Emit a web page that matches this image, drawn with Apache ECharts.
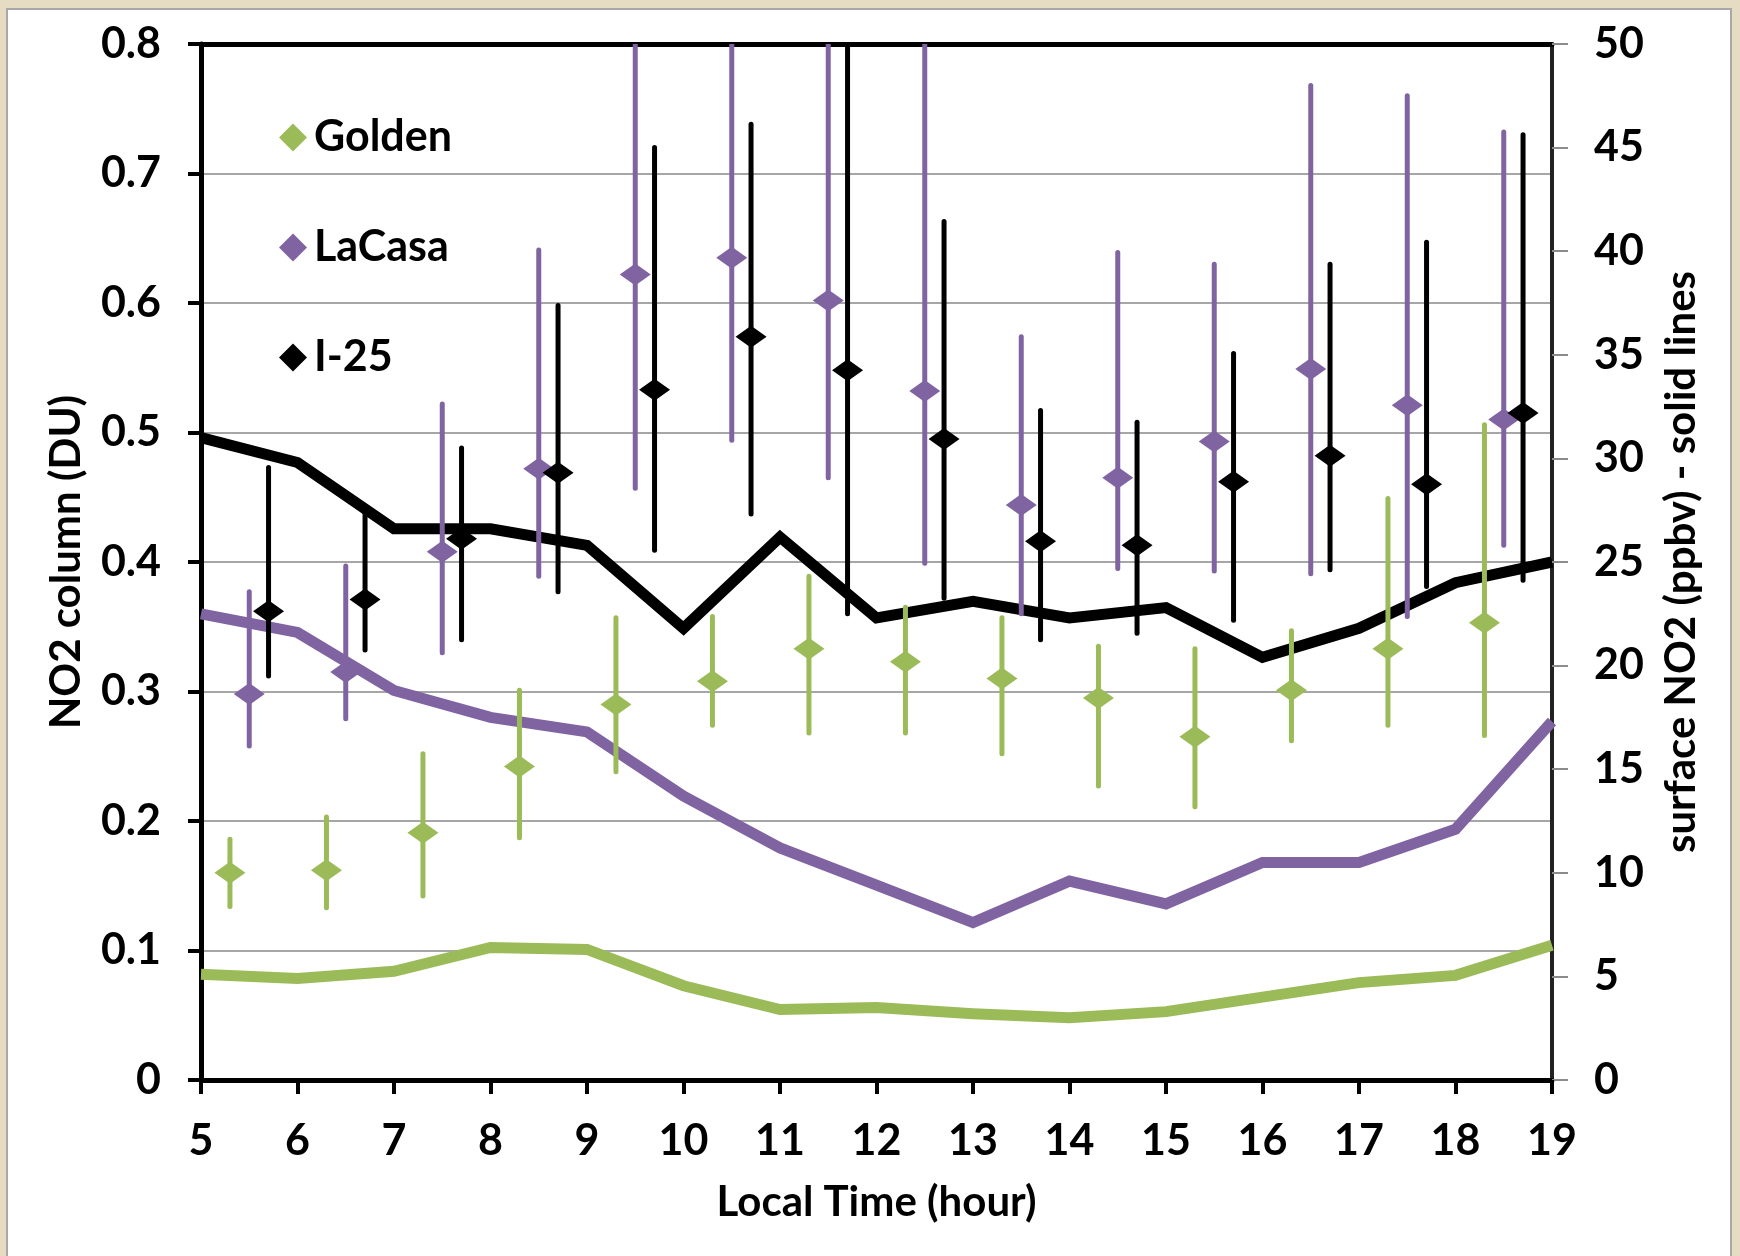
<!DOCTYPE html>
<html>
<head>
<meta charset="utf-8">
<script src="https://cdn.jsdelivr.net/npm/echarts@6/dist/echarts.min.js"></script>
<style>
  html, body { margin: 0; padding: 0; background: #e6dcc4; }
  #chart { width: 1740px; height: 1256px; }
</style>
</head>
<body>
<div id="chart"></div>
<script>
// surface NO2 (ppbv), solid lines on the right axis
var hours = [5, 6, 7, 8, 9, 10, 11, 12, 13, 14, 15, 16, 17, 18, 19];
var i25Surface    = [31.0, 29.8, 26.6, 26.6, 25.8, 21.8, 26.2, 22.3, 23.1, 22.3, 22.8, 20.4, 21.8, 24.0, 25.0];
var lacasaSurface = [22.5, 21.6, 18.8, 17.5, 16.8, 13.7, 11.2, 9.4, 7.6, 9.6, 8.5, 10.5, 10.5, 12.1, 17.3];
var goldenSurface = [5.1, 4.9, 5.25, 6.4, 6.3, 4.55, 3.4, 3.5, 3.2, 3.0, 3.3, 4.0, 4.7, 5.05, 6.5];

// NO2 column (DU), diamonds with error bars on the left axis
var goldenTime = [5.3, 6.3, 7.3, 8.3, 9.3, 10.3, 11.3, 12.3, 13.3, 14.3, 15.3, 16.3, 17.3, 18.3];
var goldenCol  = [0.160, 0.162, 0.191, 0.242, 0.290, 0.308, 0.333, 0.323, 0.310, 0.295, 0.265, 0.301, 0.333, 0.353];
var goldenHi   = [0.186, 0.203, 0.252, 0.301, 0.357, 0.358, 0.389, 0.365, 0.357, 0.335, 0.333, 0.347, 0.449, 0.506];
var goldenLo   = [0.134, 0.133, 0.142, 0.187, 0.238, 0.274, 0.268, 0.268, 0.252, 0.227, 0.211, 0.262, 0.274, 0.266];

var lacasaTime = [5.5, 6.5, 7.5, 8.5, 9.5, 10.5, 11.5, 12.5, 13.5, 14.5, 15.5, 16.5, 17.5, 18.5];
var lacasaCol  = [0.298, 0.315, 0.408, 0.472, 0.622, 0.635, 0.602, 0.532, 0.444, 0.465, 0.493, 0.549, 0.521, 0.510];
var lacasaHi   = [0.377, 0.397, 0.522, 0.641, 0.85, 0.85, 0.85, 0.85, 0.574, 0.639, 0.630, 0.768, 0.760, 0.732];
var lacasaLo   = [0.258, 0.279, 0.330, 0.389, 0.457, 0.494, 0.465, 0.399, 0.360, 0.395, 0.393, 0.391, 0.358, 0.413];

var i25Time = [5.7, 6.7, 7.7, 8.7, 9.7, 10.7, 11.7, 12.7, 13.7, 14.7, 15.7, 16.7, 17.7, 18.7];
var i25Col  = [0.362, 0.371, 0.418, 0.469, 0.533, 0.574, 0.548, 0.495, 0.416, 0.413, 0.462, 0.482, 0.460, 0.515];
var i25Hi   = [0.473, 0.440, 0.488, 0.598, 0.720, 0.738, 0.85, 0.663, 0.517, 0.508, 0.561, 0.630, 0.647, 0.730];
var i25Lo   = [0.312, 0.332, 0.340, 0.377, 0.409, 0.437, 0.360, 0.372, 0.340, 0.345, 0.355, 0.394, 0.381, 0.386];

var GREEN = '#9bbb59', PURPLE = '#8064a2', BLACK = '#000000';
var FONT = 'Lato';

function pairs(xs, ys) {
  return xs.map(function (x, i) { return [x, ys[i]]; });
}
function bars(xs, lo, hi) {
  return xs.map(function (x, i) { return [x, lo[i], hi[i]]; });
}
function errorSeries(data, color) {
  return {
    type: 'custom',
    xAxisIndex: 0, yAxisIndex: 0,
    clip: true,
    silent: true,
    z: 3,
    data: data,
    renderItem: function (params, api) {
      var p1 = api.coord([api.value(0), api.value(1)]);
      var p2 = api.coord([api.value(0), api.value(2)]);
      return {
        type: 'line',
        shape: { x1: p1[0], y1: p1[1], x2: p2[0], y2: p2[1] },
        style: { stroke: color, lineWidth: 5, lineCap: 'round' }
      };
    }
  };
}
function lineSeries(name, data, color) {
  return {
    name: name, type: 'line', xAxisIndex: 0, yAxisIndex: 1,
    data: pairs(hours, data), showSymbol: false, symbol: 'none', z: 2,
    lineStyle: { color: color, width: 11, join: 'miter' }
  };
}
function pointSeries(name, xs, ys, color) {
  return {
    name: name, type: 'scatter', xAxisIndex: 0, yAxisIndex: 0,
    data: pairs(xs, ys), symbol: 'diamond', symbolSize: [31, 22], z: 4,
    itemStyle: { color: color, opacity: 1 }
  };
}

var chart = echarts.init(document.getElementById('chart'));
chart.setOption({
  backgroundColor: '#e6dcc4',
  animation: false,
  textStyle: { fontFamily: FONT },
  graphic: [{
    type: 'rect', z: -10, silent: true,
    shape: { x: 7, y: 9, width: 1724, height: 1260 },
    style: { fill: '#ffffff', stroke: '#a8a8a8', lineWidth: 2 }
  }],
  grid: { left: 201, right: 188, top: 44, bottom: 176 },
  legend: {
    orient: 'vertical', left: 274, top: 111, itemGap: 67,
    itemWidth: 28, itemHeight: 28, icon: 'diamond',
    data: ['Golden', 'LaCasa', 'I-25'],
    textStyle: { fontFamily: FONT, fontWeight: 'bold', fontSize: 43, color: '#000', padding: [0, 0, 0, 2] }
  },
  xAxis: [{
    type: 'value', min: 5, max: 19, interval: 1, position: 'bottom',
    name: 'Local Time (hour)', nameLocation: 'middle', nameGap: 101,
    nameTextStyle: { fontFamily: FONT, fontWeight: 'bold', fontSize: 42, color: '#000' },
    axisLine: { onZero: false, lineStyle: { color: '#000', width: 5 } },
    axisTick: { show: true, inside: false, length: 14, lineStyle: { color: '#000', width: 4 } },
    axisLabel: { margin: 40, fontFamily: FONT, fontWeight: 'bold', fontSize: 43, color: '#000' },
    splitLine: { show: false }
  }, {
    type: 'value', min: 5, max: 19, position: 'top',
    axisLine: { onZero: false, lineStyle: { color: '#000', width: 5 } },
    axisTick: { show: false }, axisLabel: { show: false }, splitLine: { show: false }
  }],
  yAxis: [{
    type: 'value', min: 0, max: 0.8, interval: 0.1, position: 'left',
    name: 'NO2 column (DU)', nameLocation: 'middle', nameRotate: 90, nameGap: 114,
    nameTextStyle: { fontFamily: FONT, fontWeight: 'bold', fontSize: 42, color: '#000' },
    axisLine: { show: true, onZero: false, lineStyle: { color: '#000', width: 5 } },
    axisTick: { show: true, inside: false, length: 13, lineStyle: { color: '#000', width: 4 } },
    axisLabel: {
      margin: 40, fontFamily: FONT, fontWeight: 'bold', fontSize: 43, color: '#000',
      formatter: function (v) { return v === 0 ? '0' : v.toFixed(1); }
    },
    splitLine: { show: true, lineStyle: { color: '#a6a6a6', width: 2 } }
  }, {
    type: 'value', min: 0, max: 50, interval: 5, position: 'right',
    name: 'surface NO2 (ppbv) - solid lines', nameLocation: 'middle', nameRotate: 90, nameGap: 108,
    nameTextStyle: { fontFamily: FONT, fontWeight: 'bold', fontSize: 42, color: '#000' },
    axisLine: { show: true, onZero: false, lineStyle: { color: '#222', width: 4 } },
    axisTick: { show: true, inside: false, length: 16, lineStyle: { color: '#8c8c8c', width: 2 } },
    axisLabel: { margin: 42, fontFamily: FONT, fontWeight: 'bold', fontSize: 43, color: '#000' },
    splitLine: { show: false }
  }],
  series: [
    lineSeries('Golden surface', goldenSurface, GREEN),
    lineSeries('LaCasa surface', lacasaSurface, PURPLE),
    lineSeries('I-25 surface', i25Surface, BLACK),
    errorSeries(bars(goldenTime, goldenLo, goldenHi), GREEN),
    errorSeries(bars(lacasaTime, lacasaLo, lacasaHi), PURPLE),
    errorSeries(bars(i25Time, i25Lo, i25Hi), BLACK),
    pointSeries('Golden', goldenTime, goldenCol, GREEN),
    pointSeries('LaCasa', lacasaTime, lacasaCol, PURPLE),
    pointSeries('I-25', i25Time, i25Col, BLACK)
  ]
});
</script>
</body>
</html>
